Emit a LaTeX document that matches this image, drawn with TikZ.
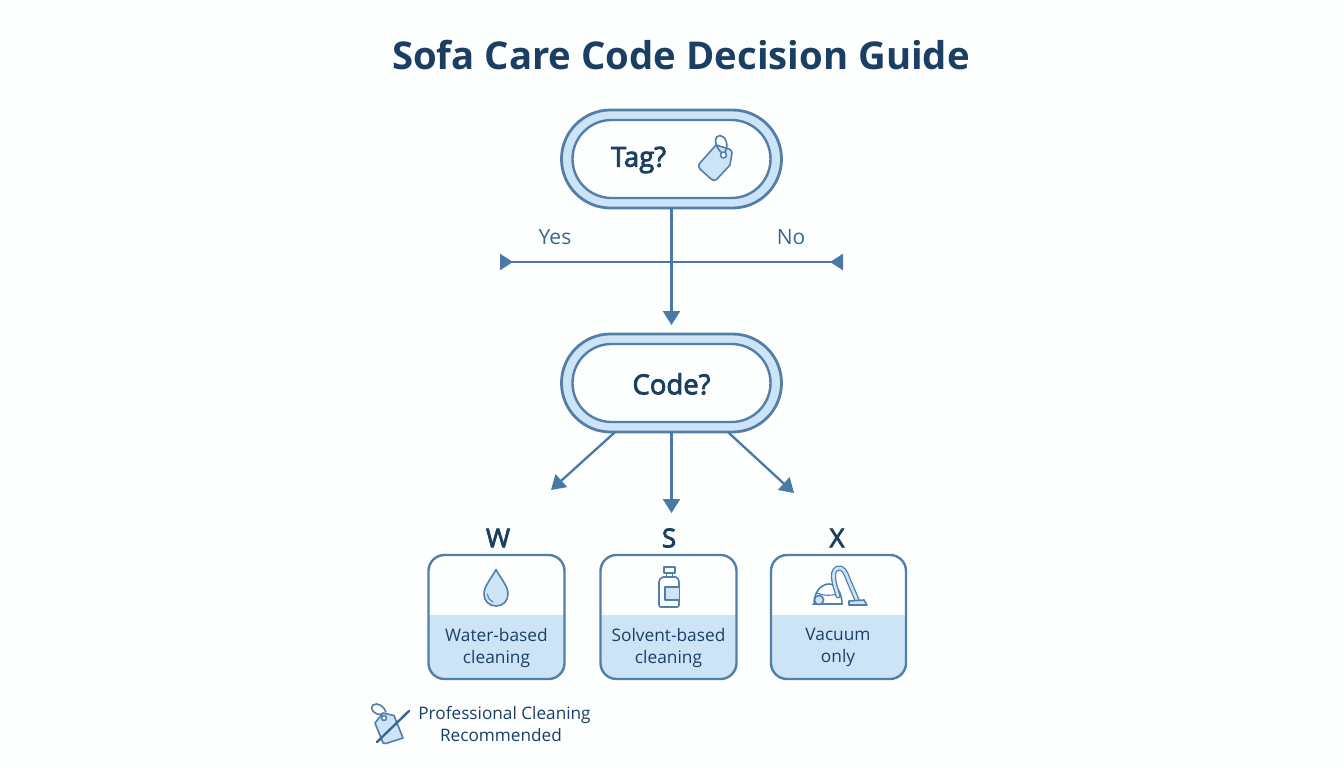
\documentclass[tikz,border=0pt]{standalone}
\usepackage{fontspec}
\setmainfont{Open Sans}
\newfontfamily\semifont[FakeBold=3]{Open Sans}
\usetikzlibrary{arrows.meta,calc}
\definecolor{edge}{HTML}{527FAA}
\definecolor{arrowc}{HTML}{4A78A8}
\definecolor{band}{HTML}{CDE4F6}
\definecolor{ink}{HTML}{1B3F63}
\definecolor{soft}{HTML}{3A6690}
\definecolor{paper}{HTML}{FDFEFE}
\tikzset{
 pillouter/.style={draw=edge,line width=2.8pt,fill=band,rounded corners=49pt,minimum width=220pt,minimum height=98pt,outer sep=0pt,inner sep=0pt},
 pillinner/.style={draw=edge,line width=2.4pt,fill=paper,rounded corners=39pt,minimum width=198pt,minimum height=78pt,outer sep=0pt,inner sep=0pt},
 cardbox/.style={draw=edge,line width=2.4pt,rounded corners=16pt,fill=paper,minimum width=136pt,minimum height=124pt,outer sep=0pt,inner sep=0pt,
   path picture={\fill[band,sharp corners] (path picture bounding box.south west) rectangle ([yshift=64pt]path picture bounding box.south east);}},
 conn/.style={draw=arrowc,line width=2.3pt,-{Triangle[length=14pt,width=17pt]}},
 crossbar/.style={draw=arrowc,line width=2.3pt,{Triangle[length=13pt,width=16pt,reversed]}-{Triangle[length=13pt,width=16pt,reversed]}},
 question/.style={text=ink,font=\semifont\fontsize{27.5}{32}\selectfont},
 branch/.style={text=soft,font=\fontsize{21}{25}\selectfont},
 letter/.style={text=ink,font=\semifont\fontsize{26}{30}\selectfont},
 cardtext/.style={text=ink,align=center,font=\fontsize{17.3}{22}\selectfont},
 icon/.style={draw=edge,line width=1.6pt,line join=round,line cap=round},
}
\begin{document}
\begin{tikzpicture}[x=1pt,y=-1pt]
\useasboundingbox (0,0) rectangle (1344,768);
\fill[paper] (0,0) rectangle (1344,768);
\node[text=ink,font=\bfseries\fontsize{38.3}{46}\selectfont] (title) at (681,55) {Sofa Care Code Decision Guide};

\node[pillouter] (tagout) at (671.5,159) {};
\node[pillinner] (taginner) at (671.5,159) {};
\node[question] (tagtext) at (638.5,160) {Tag?};
\node[pillouter] (code) at (671.5,383) {};
\node[pillinner] (codeinner) at (671.5,383) {};
\node[question] (codetext) at (671.5,384) {Code?};

% tag icon
\draw[icon,fill=band] (716,145) -- (729,149) .. controls (731,150) and (732,151) .. (732,153) -- (730,165) -- (717,179) .. controls (715,181) and (713,181) .. (711,179) -- (700,169) .. controls (698,167) and (698,165) .. (700,163) -- cycle;
\draw[icon,fill=paper] (723.5,155) circle (3pt);
\draw[icon] (721,152) .. controls (714,146) and (714,135) .. (720,135.5) .. controls (726,136) and (729,146) .. (725,152);

\coordinate (leftend) at (500,262);
\coordinate (rightend) at (843,262);
\coordinate (downend) at (671.5,325);
\path[crossbar] (leftend) -- (rightend);
\path[conn] (tagout.south) -- (downend);
\node[branch] (yes) at (555,237) {Yes};
\node[branch] (no) at (791,237) {No};

\coordinate (wend) at (551,490);
\coordinate (send) at (671.5,513);
\coordinate (xend) at (794,493);
\path[conn] (code.221) -- (wend);
\path[conn] (code.south) -- (send);
\path[conn] (code.319) -- (xend);

\node[letter] (wl) at (498,538) {W};
\node[letter] (sl) at (669,538) {S};
\node[letter] (xl) at (837,538) {X};

\node[cardbox] (wc) at (496.5,617) {};
\node[cardbox] (sc) at (668.5,617) {};
\node[cardbox,minimum width=135pt] (xc) at (838.5,617) {};
\node[cardtext] (wt) at (496.5,647.5) {Water-based\\cleaning};
\node[cardtext] (st) at (668.5,647.5) {Solvent-based\\cleaning};
\node[cardtext] (xt) at (838,647.5) {Vacuum\\only};

% drop
\draw[icon,fill=band] (496,569.5) .. controls (491,579) and (484,586) .. (484,594) .. controls (484,601) and (489,606) .. (496,606) .. controls (503,606) and (508,601) .. (508,594) .. controls (508,586) and (501,579) .. (496,569.5) -- cycle;
\draw[draw=edge,line width=1.1pt,line cap=round] (487.5,594) .. controls (488,598) and (490,601) .. (493,602);

% bottle
\draw[icon,fill=paper] (664,567) rectangle (675,573);
\draw[icon,fill=paper] (666.5,573) rectangle (672.5,577);
\draw[icon,fill=paper] (663,577) -- (676,577) .. controls (678,578) and (679,580) .. (679,582) -- (679,605) .. controls (679,606.5) and (678,607) .. (677,607) -- (661,607) .. controls (660,607) and (659,606.5) .. (659,605) -- (659,582) .. controls (659,580) and (660,578) .. (663,577) -- cycle;
\draw[icon,fill=band] (679,587) -- (665,587) -- (665,600) -- (679,600);

% vacuum
\draw[icon,fill=paper] (814,604) .. controls (814,592) and (821,584) .. (829,584) .. controls (837,584) and (842,594) .. (842,604) -- cycle;
\draw[draw=edge,line width=1.1pt] (817,593) .. controls (824,596) and (833,596) .. (840,593);
\draw[icon,fill=band] (819,600) circle (4.6pt);
\draw[icon] (812.5,604.5) -- (842,604.5);
\draw[draw=edge,line width=5.2pt,line cap=round] (838,596) .. controls (835,586) and (830,572) .. (837,568.5) .. controls (843,566) and (846,573) .. (848,579) -- (857,600);
\draw[draw=band,line width=2.6pt,line cap=round] (838,596) .. controls (835,586) and (830,572) .. (837,568.5) .. controls (843,566) and (846,573) .. (848,579) -- (857,600);
\draw[icon,fill=band] (849,605) -- (849,601) -- (864,600) -- (867,605) -- cycle;

% crossed tag
\draw[icon,fill=band] (383,713) -- (394,715.5) -- (403,738) -- (386,743.5) -- (383,743) -- (375,723) -- cycle;
\draw[icon,fill=paper] (384,718) circle (2.5pt);
\draw[icon] (382,714) .. controls (374,716) and (369,708) .. (373,705) .. controls (377,702) and (384,706) .. (386,712);
\draw[draw=soft,line width=2.4pt,line cap=round] (377,742) -- (409,711);

\node[text=ink,align=center,font=\fontsize{17.2}{22}\selectfont] (pro) at (504.5,724) {Professional Cleaning\\\hspace*{-7pt}Recommended};
\end{tikzpicture}
\end{document}
